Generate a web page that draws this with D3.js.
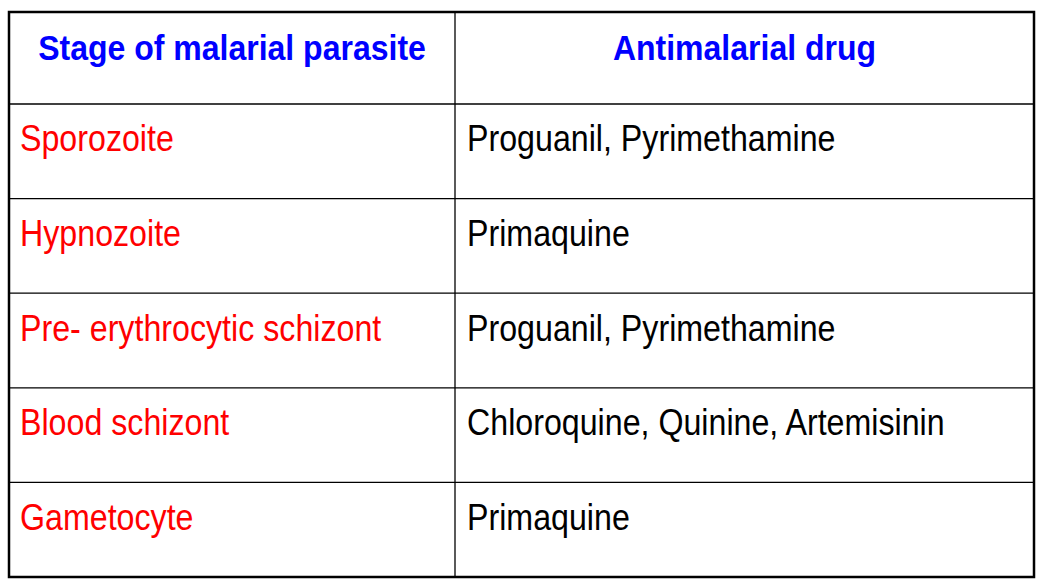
<!DOCTYPE html>
<html><head><meta charset="utf-8">
<script src="https://cdn.jsdelivr.net/npm/d3@7"></script>
<style>body{margin:0;background:#fff}</style></head>
<body><svg id="c" width="1046" height="588"></svg>
<script>
const headers = ["Stage of malarial parasite", "Antimalarial drug"];
const stages = ["Sporozoite", "Hypnozoite", "Pre- erythrocytic schizont", "Blood schizont", "Gametocyte"];
const drugs = ["Proguanil, Pyrimethamine", "Primaquine", "Proguanil, Pyrimethamine", "Chloroquine, Quinine, Artemisinin", "Primaquine"];

const svg = d3.select("#c");
const font = "'Liberation Sans Narrow','Arial Narrow',Arial,sans-serif";
const x0 = 9, x1 = 1034, xm = 455, y0 = 12, y1 = 577;
const hdrH = 92;
const rowY = i => i === 0 ? y0 : y0 + hdrH + (i - 1) * (y1 - y0 - hdrH) / stages.length;

d3.range(1, stages.length + 1).forEach(i => {
  svg.append("line").attr("x1", x0).attr("x2", x1).attr("y1", rowY(i)).attr("y2", rowY(i))
    .attr("stroke", "#000").attr("stroke-width", 1.3);
});
svg.append("line").attr("x1", xm).attr("x2", xm).attr("y1", y0).attr("y2", y1).attr("stroke", "#000").attr("stroke-width", 1.3);
svg.append("rect").attr("x", x0).attr("y", y0).attr("width", x1 - x0).attr("height", y1 - y0)
  .attr("fill", "none").attr("stroke", "#000").attr("stroke-width", 2.5);

[[headers[0], (x0 + xm) / 2], [headers[1], (xm + x1) / 2]].forEach(([t, cx]) => {
  svg.append("text").attr("transform", `translate(${cx},${y0 + hdrH / 2 + 2}) scale(0.97,1.05)`).attr("text-anchor", "middle")
    .attr("font-family", font).attr("font-weight", "bold").attr("font-size", 33).attr("fill", "#0000ff").text(t);
});
stages.forEach((s, i) => {
  const cy = (rowY(i + 1) + rowY(i + 2)) / 2 - 8;
  svg.append("text").attr("transform", `translate(20,${cy + 8}) scale(0.92,1.05)`).attr("font-family", font).attr("font-size", 35).attr("fill", "#ff0000").text(s);
  svg.append("text").attr("transform", `translate(467,${cy + 8}) scale(0.92,1.05)`).attr("font-family", font).attr("font-size", 35).attr("fill", "#000").text(drugs[i]);
});
</script></body></html>
